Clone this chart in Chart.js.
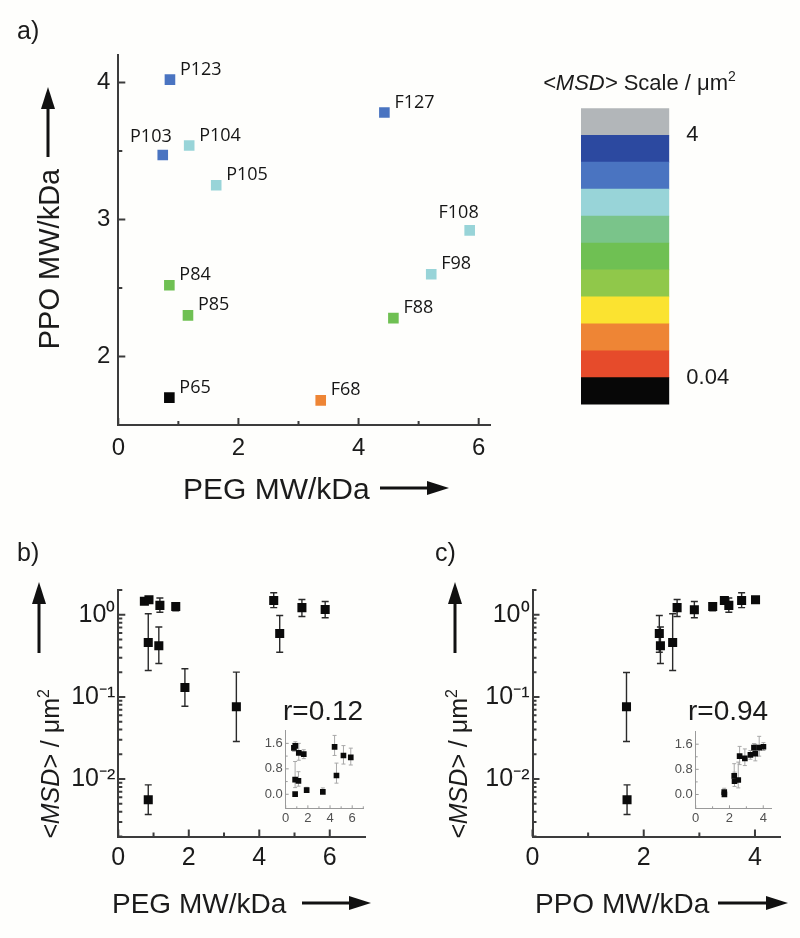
<!DOCTYPE html>
<html>
<head>
<meta charset="utf-8">
<title>Pluronic MSD</title>
<script src="https://cdn.jsdelivr.net/npm/chart.js@4.4.1/dist/chart.umd.min.js"></script>
<style>
  html, body { margin: 0; padding: 0; background: #fefefc; }
  #page { position: relative; width: 800px; height: 938px; overflow: hidden; }
  #page canvas { position: absolute; left: 0; top: 0; }
</style>
</head>
<body>
<div id="page">
  <canvas id="chartA" width="800" height="938"></canvas>
  <canvas id="scaleChart" width="800" height="938"></canvas>
  <canvas id="chartB" width="800" height="938"></canvas>
  <canvas id="insetB" width="800" height="938"></canvas>
  <canvas id="chartC" width="800" height="938"></canvas>
  <canvas id="insetC" width="800" height="938"></canvas>
</div>
<script>
// ---- values ----

// a) copolymers, PEG / PPO block weights in kDa
var copolymers = ['P123', 'F127', 'P103', 'P104', 'P105', 'F108', 'F98', 'P84', 'P85', 'F88', 'P65', 'F68'];
var pegMW = [0.86, 4.43, 0.74, 1.18, 1.63, 5.85, 5.21, 0.85, 1.16, 4.58, 0.85, 3.37];
var ppoMW = [4.02, 3.78, 3.47, 3.54, 3.25, 2.92, 2.60, 2.52, 2.30, 2.28, 1.70, 1.68];
// band of the <MSD> scale each copolymer falls in (0 = bottom band)
var msdBand = [8, 8, 8, 7, 7, 7, 7, 5, 5, 5, 0, 2];
var labelsOnLeft = ['P103', 'F108'];

// <MSD> colour scale, bottom to top
var scaleColors = ['#070707', '#e64b2b', '#ee8535', '#fbe330', '#90c84a', '#6fc053',
                   '#7ac48a', '#98d4d8', '#4a74c1', '#2c49a0', '#b2b6b9'];
var scaleBands = [1, 1, 1, 1, 1, 1, 1, 1, 1, 1, 1];
var scaleTickAt = [1, 10];
var scaleTickLabels = ['0.04', '4'];

// b) <MSD> (um^2) against PEG MW
var pegB  = [0.74, 0.87, 0.85, 1.18, 1.15, 1.63, 1.89, 3.35, 0.85, 4.41, 4.58, 5.21, 5.87];
var msdB  = [1.46, 1.52, 0.46, 1.30, 0.42, 1.26, 0.13, 0.076, 0.0056, 1.49, 0.59, 1.22, 1.16];
var msdBLo = [1.35, 1.40, 0.21, 1.07, 0.255, 1.12, 0.077, 0.0286, 0.0037, 1.22, 0.35, 0.95, 0.92];
var msdBHi = [1.60, 1.65, 1.03, 1.60, 0.71, 1.40, 0.22, 0.20, 0.0085, 1.85, 0.98, 1.53, 1.45];
var corrB = 'r=0.12';

// c) <MSD> (um^2) against PPO MW
var ppoC  = [1.69, 1.70, 2.28, 2.30, 2.52, 2.60, 2.91, 3.24, 3.45, 3.53, 3.76, 4.01];
var msdC  = [0.076, 0.0056, 0.59, 0.42, 0.46, 1.22, 1.15, 1.26, 1.49, 1.30, 1.49, 1.52];
var msdCLo = [0.0286, 0.0037, 0.35, 0.255, 0.21, 0.95, 0.92, 1.12, 1.35, 1.07, 1.22, 1.40];
var msdCHi = [0.198, 0.0085, 0.98, 0.71, 1.03, 1.53, 1.45, 1.40, 1.62, 1.60, 1.85, 1.65];
var corrC = 'r=0.94';

// tick values
var decades = [0.01, 0.1, 1];
var decadeLabels = ['10\u207B\u00B2', '10\u207B\u00B9', '10\u2070'];
var insetYTicks = [0, 0.8, 1.6];
var insetYLabels = ['0.0', '0.8', '1.6'];

// ---- drawing ----
var W = 800, H = 938;
var FONT = '"Liberation Sans", Arial, sans-serif';
var AXIS = '#3c3c3c';
var INK = '#1b1b1b';

Chart.defaults.font.family = FONT;
Chart.defaults.color = INK;
Chart.defaults.animation = false;
Chart.defaults.responsive = false;
Chart.defaults.maintainAspectRatio = false;
Chart.defaults.plugins.legend.display = false;
Chart.defaults.plugins.tooltip.enabled = false;

// plot boxes on the page: [left, top, right, bottom]
var boxA = [118.3, 55, 490.7, 425];
var boxB = [118.3, 590, 365, 836.5];
var boxC = [532.5, 590, 780, 836.5];
var boxIB = [285.7, 730, 363.3, 808.3];
var boxIC = [695.7, 731, 771.7, 808.3];

function pad(box, yW, xH) {
  return { left: box[0] - yW, top: box[1], right: W - box[2], bottom: H - box[3] - xH };
}

// minor ticks of the log axis: 2..9 within each decade
var logMinor = [];
[0.001, 0.01, 0.1, 1].forEach(function (d) {
  for (var k = 2; k <= 9; k++) if (d * k <= 2.0001) logMinor.push(d * k);
});

function axis(type, min, max, majors, labels, minors, o) {
  return {
    type: type, min: min, max: max,
    afterBuildTicks: function (s) {
      s.ticks = majors.concat(minors).sort(function (a, b) { return a - b; })
        .map(function (v) { return { value: v }; });
    },
    afterFit: function (s) { if (s.isHorizontal()) s.height = o.size; else s.width = o.size; },
    grid: { drawOnChartArea: false, drawTicks: false },
    border: { color: o.color || AXIS, width: o.line || 2 },
    ticks: {
      autoSkip: false, maxRotation: 0, padding: o.pad,
      color: o.textColor || INK,
      font: { size: o.font },
      callback: function (v) {
        var k = majors.findIndex(function (m) { return Math.abs(m - v) < 1e-9; });
        return k < 0 ? '' : labels[k];
      }
    }
  };
}

// inward tick marks, long for labelled ticks
function tickMarks(major, minor, color, width) {
  return {
    id: 'tickMarks',
    afterDatasetsDraw: function (chart) {
      var ctx = chart.ctx, a = chart.chartArea;
      ctx.save();
      ctx.strokeStyle = color;
      ctx.lineWidth = width;
      ctx.beginPath();
      ['x', 'y'].forEach(function (id) {
        var s = chart.scales[id];
        s.ticks.forEach(function (t) {
          var p = s.getPixelForValue(t.value), len = t.label ? major : minor;
          if (id === 'x') { ctx.moveTo(p, a.bottom); ctx.lineTo(p, a.bottom - len); }
          else { ctx.moveTo(a.left, p); ctx.lineTo(a.left + len, p); }
        });
      });
      ctx.stroke();
      ctx.restore();
    }
  };
}

function errorBars(lo, hi, color, cap, width) {
  return {
    id: 'errorBars',
    beforeDatasetsDraw: function (chart) {
      var ctx = chart.ctx, ys = chart.scales.y, meta = chart.getDatasetMeta(0);
      ctx.save();
      ctx.strokeStyle = color;
      ctx.lineWidth = width;
      ctx.beginPath();
      meta.data.forEach(function (pt, i) {
        var y1 = ys.getPixelForValue(lo[i]), y2 = ys.getPixelForValue(hi[i]);
        ctx.moveTo(pt.x, y1); ctx.lineTo(pt.x, y2);
        ctx.moveTo(pt.x - cap, y1); ctx.lineTo(pt.x + cap, y1);
        ctx.moveTo(pt.x - cap, y2); ctx.lineTo(pt.x + cap, y2);
      });
      ctx.stroke();
      ctx.restore();
    }
  };
}

var pointLabels = {
  id: 'pointLabels',
  afterDatasetsDraw: function (chart) {
    var ctx = chart.ctx, meta = chart.getDatasetMeta(0);
    ctx.save();
    ctx.font = '18px "Open Sans", "Noto Sans", sans-serif';
    ctx.fillStyle = '#151515';
    ctx.textBaseline = 'middle';
    meta.data.forEach(function (pt, i) {
      var name = copolymers[i], left = labelsOnLeft.indexOf(name) >= 0;
      ctx.textAlign = left ? 'right' : 'left';
      ctx.fillText(name, pt.x + (left ? 9 : 10), pt.y + (left ? -18 : -10));
    });
    ctx.restore();
  }
};

function overlay(draw) {
  return { id: 'overlay', afterDraw: function (chart) { draw(chart.ctx); } };
}

// runs: [text, style] with style '' plain, 'i' italic, 's' superscript
function textRuns(ctx, runs, x, y, size, rotate, center) {
  function font(st) {
    return (st === 'i' ? 'italic ' : '') + (st === 's' ? Math.round(size * 0.62) : size) + 'px ' + FONT;
  }
  ctx.save();
  ctx.translate(x, y);
  if (rotate) ctx.rotate(-Math.PI / 2);
  ctx.fillStyle = INK;
  ctx.textAlign = 'left';
  ctx.textBaseline = 'alphabetic';
  var total = 0;
  runs.forEach(function (r) { ctx.font = font(r[1]); total += ctx.measureText(r[0]).width; });
  var cx = center ? -total / 2 : 0;
  runs.forEach(function (r) {
    ctx.font = font(r[1]);
    ctx.fillText(r[0], cx, r[1] === 's' ? -size * 0.42 : 0);
    cx += ctx.measureText(r[0]).width;
  });
  ctx.restore();
}

function arrow(ctx, x1, y1, x2, y2) {
  var ang = Math.atan2(y2 - y1, x2 - x1), head = 22, half = 7;
  ctx.save();
  ctx.strokeStyle = '#111';
  ctx.fillStyle = '#111';
  ctx.lineWidth = 3;
  ctx.beginPath();
  ctx.moveTo(x1, y1);
  ctx.lineTo(x2 - Math.cos(ang) * head * 0.8, y2 - Math.sin(ang) * head * 0.8);
  ctx.stroke();
  ctx.translate(x2, y2);
  ctx.rotate(ang);
  ctx.beginPath();
  ctx.moveTo(0, 0);
  ctx.lineTo(-head, -half);
  ctx.lineTo(-head, half);
  ctx.closePath();
  ctx.fill();
  ctx.restore();
}

function points(xs, ys) {
  return xs.map(function (x, i) { return { x: x, y: ys[i] }; });
}

var msdTitle = [['<MSD>', 'i'], [' / \u03BCm', ''], ['2', 's']];

// a) PPO vs PEG, coloured by <MSD>
new Chart(document.getElementById('chartA'), {
  type: 'scatter',
  data: {
    datasets: [{
      data: points(pegMW, ppoMW),
      pointStyle: 'rect',
      pointRadius: 7.5,
      pointBorderWidth: 0,
      pointBackgroundColor: msdBand.map(function (b) { return scaleColors[b]; })
    }]
  },
  options: {
    layout: { padding: pad(boxA, 118.3, 45) },
    scales: {
      x: axis('linear', 0, 6.2, [0, 2, 4, 6], ['0', '2', '4', '6'], [1, 3, 5], { size: 45, pad: 9, font: 24 }),
      y: axis('linear', 1.5, 4.2, [2, 3, 4], ['2', '3', '4'], [2.5, 3.5], { size: 118.3, pad: 8, font: 24 })
    }
  },
  plugins: [tickMarks(7, 4, AXIS, 2), pointLabels, overlay(function (ctx) {
    ctx.save();
    ctx.fillStyle = INK;
    ctx.font = '25px ' + FONT;
    ctx.fillText('a)', 17, 39);
    ctx.font = '30px ' + FONT;
    ctx.fillText('PEG MW/kDa', 183, 499);
    ctx.restore();
    textRuns(ctx, [['PPO MW/kDa', '']], 59, 259, 29, true, true);
    arrow(ctx, 380, 488, 449, 488);
    arrow(ctx, 48, 157, 48, 87);
  })]
});

// colour scale bar
new Chart(document.getElementById('scaleChart'), {
  type: 'bar',
  data: {
    labels: [''],
    datasets: scaleColors.map(function (c, i) {
      return { data: [scaleBands[i]], backgroundColor: c, borderWidth: 0, barPercentage: 1, categoryPercentage: 1 };
    })
  },
  options: {
    layout: { padding: { left: 581, top: 108.3, right: W - 669.3 - 80, bottom: H - 404.6 } },
    scales: {
      x: { display: false, stacked: true },
      y: {
        position: 'right', stacked: true, min: 0, max: 11,
        afterBuildTicks: function (s) { s.ticks = scaleTickAt.map(function (v) { return { value: v }; }); },
        afterFit: function (s) { s.width = 80; },
        grid: { display: false },
        border: { display: false },
        ticks: {
          padding: 9, font: { size: 22 }, color: INK,
          callback: function (v) { return scaleTickLabels[scaleTickAt.indexOf(v)]; }
        }
      }
    }
  },
  plugins: [overlay(function (ctx) {
    textRuns(ctx, [['<MSD>', 'i'], [' Scale / \u03BCm', ''], ['2', 's']], 543, 90, 22, false, false);
  })]
});

// b) <MSD> vs PEG MW
new Chart(document.getElementById('chartB'), {
  type: 'scatter',
  data: {
    datasets: [{
      data: points(pegB, msdB),
      pointStyle: 'rect', pointRadius: 6.4, pointBorderWidth: 0, pointBackgroundColor: '#0a0a0a'
    }]
  },
  options: {
    layout: { padding: pad(boxB, 118.3, 45) },
    scales: {
      x: axis('linear', 0, 7, [0, 2, 4, 6], ['0', '2', '4', '6'], [1, 3, 5], { size: 45, pad: 7, font: 25 }),
      y: axis('logarithmic', 0.002, 2, decades, decadeLabels, logMinor, { size: 118.3, pad: 3, font: 25 })
    }
  },
  plugins: [errorBars(msdBLo, msdBHi, '#2a2a2a', 3.5, 1.4), tickMarks(7, 4, AXIS, 2), overlay(function (ctx) {
    ctx.save();
    ctx.fillStyle = INK;
    ctx.font = '25px ' + FONT;
    ctx.fillText('b)', 17, 561);
    ctx.font = '28px ' + FONT;
    ctx.fillText('PEG MW/kDa', 112, 913);
    ctx.fillText(corrB, 283, 720);
    ctx.restore();
    textRuns(ctx, msdTitle, 59, 764, 25, true, true);
    arrow(ctx, 302, 903, 371, 903);
    arrow(ctx, 39, 653, 39, 582);
  })]
});

// b) inset, linear <MSD>
new Chart(document.getElementById('insetB'), {
  type: 'scatter',
  data: {
    datasets: [{
      data: points(pegB, msdB),
      pointStyle: 'rect', pointRadius: 4, pointBorderWidth: 0, pointBackgroundColor: '#0a0a0a'
    }]
  },
  options: {
    layout: { padding: pad(boxIB, 30, 20) },
    scales: {
      x: axis('linear', 0, 7, [0, 2, 4, 6], ['0', '2', '4', '6'], [1, 3, 5, 7],
        { size: 20, pad: 2, font: 13, color: '#9a9a9a', line: 1, textColor: '#505050' }),
      y: axis('linear', -0.44, 2.02, insetYTicks, insetYLabels, [0.4, 1.2],
        { size: 30, pad: 3, font: 13, color: '#9a9a9a', line: 1, textColor: '#505050' })
    }
  },
  plugins: [errorBars(msdBLo, msdBHi, '#a8a8a8', 2, 1), tickMarks(3, 2, '#9a9a9a', 1)]
});

// c) <MSD> vs PPO MW
new Chart(document.getElementById('chartC'), {
  type: 'scatter',
  data: {
    datasets: [{
      data: points(ppoC, msdC),
      pointStyle: 'rect', pointRadius: 6.4, pointBorderWidth: 0, pointBackgroundColor: '#0a0a0a'
    }]
  },
  options: {
    layout: { padding: pad(boxC, 80, 45) },
    scales: {
      x: axis('linear', 0, 4.45, [0, 2, 4], ['0', '2', '4'], [1, 3], { size: 45, pad: 7, font: 25 }),
      y: axis('logarithmic', 0.002, 2, decades, decadeLabels, logMinor, { size: 80, pad: 3, font: 25 })
    }
  },
  plugins: [errorBars(msdCLo, msdCHi, '#2a2a2a', 3.5, 1.4), tickMarks(7, 4, AXIS, 2), overlay(function (ctx) {
    ctx.save();
    ctx.fillStyle = INK;
    ctx.font = '25px ' + FONT;
    ctx.fillText('c)', 435, 561);
    ctx.font = '28px ' + FONT;
    ctx.fillText('PPO MW/kDa', 535, 913);
    ctx.fillText(corrC, 688, 720);
    ctx.restore();
    textRuns(ctx, msdTitle, 467, 764, 25, true, true);
    arrow(ctx, 718, 903, 788, 903);
    arrow(ctx, 455, 653, 455, 582);
  })]
});

// c) inset, linear <MSD>
new Chart(document.getElementById('insetC'), {
  type: 'scatter',
  data: {
    datasets: [{
      data: points(ppoC, msdC),
      pointStyle: 'rect', pointRadius: 4, pointBorderWidth: 0, pointBackgroundColor: '#0a0a0a'
    }]
  },
  options: {
    layout: { padding: pad(boxIC, 30, 20) },
    scales: {
      x: axis('linear', 0, 4.5, [0, 2, 4], ['0', '2', '4'], [1, 3],
        { size: 20, pad: 2, font: 13, color: '#9a9a9a', line: 1, textColor: '#505050' }),
      y: axis('linear', -0.44, 2.02, insetYTicks, insetYLabels, [0.4, 1.2],
        { size: 30, pad: 3, font: 13, color: '#9a9a9a', line: 1, textColor: '#505050' })
    }
  },
  plugins: [errorBars(msdCLo, msdCHi, '#a8a8a8', 2, 1), tickMarks(3, 2, '#9a9a9a', 1)]
});
</script>
</body>
</html>
